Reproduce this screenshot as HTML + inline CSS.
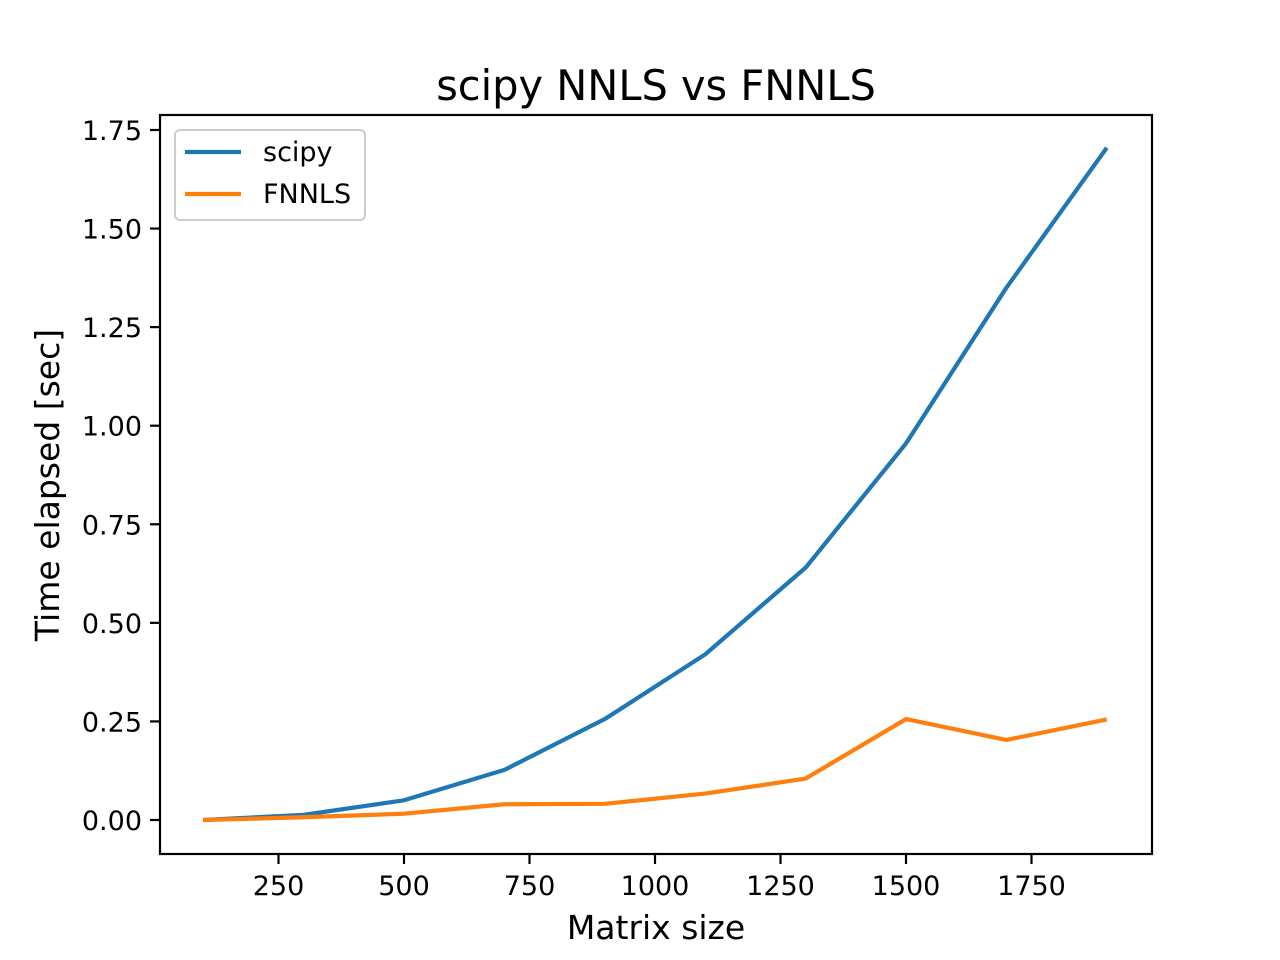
<!DOCTYPE html>
<html><head><meta charset="utf-8"><style>
body{margin:0;background:#fff;}
svg{display:block;font-family:"DejaVu Sans","Liberation Sans",sans-serif;}
</style></head><body>
<svg id="chart" width="1280" height="960" viewBox="0 0 1280 960">
<rect width="1280" height="960" fill="#fff"/>
<g id="ticks"></g>
<g id="lines"></g>
<rect x="160" y="115" width="992" height="739" fill="none" stroke="#000" stroke-width="2.2"/>
<text x="656" y="100" font-size="41.5" text-anchor="middle">scipy NNLS vs FNNLS</text>
<text x="656" y="939" font-size="33" text-anchor="middle">Matrix size</text>
<text x="0" y="0" font-size="33" text-anchor="middle" transform="translate(59,485) rotate(-90)">Time elapsed [sec]</text>
<g>
<rect x="175" y="130" width="190" height="90" rx="5" fill="#fff" fill-opacity="0.8" stroke="#ccc" stroke-width="2"/>
<g><line x1="185" y1="152" x2="241" y2="152" stroke="#1f77b4" stroke-width="4.2"/><text x="263" y="161" font-size="27">scipy</text></g>
<g><line x1="185" y1="194" x2="241" y2="194" stroke="#ff7f0e" stroke-width="4.2"/><text x="263" y="203" font-size="27">FNNLS</text></g>
</g>
</svg>
<script>
const sizes=[100,300,500,700,900,1100,1300,1500,1700,1900];
const scipyTimes=[0.0,0.013,0.05,0.127,0.256,0.42,0.64,0.955,1.35,1.705];
const fnnlsTimes=[0.0,0.007,0.016,0.04,0.041,0.067,0.105,0.256,0.203,0.255];
const xTicks=[250,500,750,1000,1250,1500,1750];
const yTicks=[0,0.25,0.5,0.75,1.0,1.25,1.5,1.75];
const NS='http://www.w3.org/2000/svg';
function xs(v){return 404+(v-500)*0.502;}
function ys(v){return 820-v*394.3;}
const tg=document.getElementById('ticks');
xTicks.forEach(t=>{
 const l=document.createElementNS(NS,'line');
 l.setAttribute('x1',xs(t));l.setAttribute('x2',xs(t));l.setAttribute('y1',854);l.setAttribute('y2',864);
 l.setAttribute('stroke','#000');l.setAttribute('stroke-width','2.2');
 
 
 tg.appendChild(l);
 const tx=document.createElementNS(NS,'text');
 tx.setAttribute('x',xs(t));tx.setAttribute('y',895);tx.setAttribute('font-size','27');tx.setAttribute('text-anchor','middle');
 tx.textContent=t;
 
 
 tg.appendChild(tx);
});
yTicks.forEach(t=>{
 const l=document.createElementNS(NS,'line');
 l.setAttribute('x1',150);l.setAttribute('x2',160);l.setAttribute('y1',ys(t));l.setAttribute('y2',ys(t));
 l.setAttribute('stroke','#000');l.setAttribute('stroke-width','2.2');
 
 
 tg.appendChild(l);
 const tx=document.createElementNS(NS,'text');
 tx.setAttribute('x',142);tx.setAttribute('y',ys(t)+10);tx.setAttribute('font-size','27');tx.setAttribute('text-anchor','end');
 tx.textContent=t.toFixed(2);
 
 
 tg.appendChild(tx);
});
const lg=document.getElementById('lines');
[[scipyTimes,'#1f77b4','scipy-line'],[fnnlsTimes,'#ff7f0e','fnnls-line']].forEach(([vals,c,n])=>{
 const p=document.createElementNS(NS,'polyline');
 p.setAttribute('points',sizes.map((s,i)=>xs(s)+','+ys(vals[i])).join(' '));
 p.setAttribute('fill','none');p.setAttribute('stroke',c);p.setAttribute('stroke-width','4.2');p.setAttribute('stroke-linejoin','round');
 
 
 lg.appendChild(p);
});
</script>
</body></html>
